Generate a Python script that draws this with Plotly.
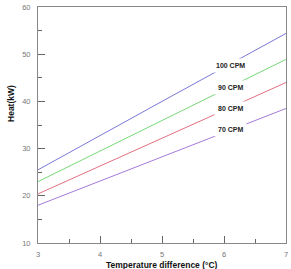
import plotly.graph_objects as go

temp_diff = [3, 4, 5, 6, 7]
heat_100 = [25.5, 32.8, 40.0, 47.2, 54.4]
heat_90 = [23.0, 29.5, 36.0, 42.4, 48.9]
heat_80 = [20.4, 26.3, 32.2, 38.1, 44.0]
heat_70 = [18.0, 23.1, 28.3, 33.4, 38.5]

series_names = ["100 CPM", "90 CPM", "80 CPM", "70 CPM"]
series_values = [heat_100, heat_90, heat_80, heat_70]
series_colors = ["#7a78d4", "#78d878", "#e07080", "#a47ad8"]
label_x = 6.1
label_y = [47.6, 43.0, 38.4, 34.1]

fig = go.Figure()
for name, vals, col in zip(series_names, series_values, series_colors):
    fig.add_trace(go.Scatter(x=temp_diff, y=vals, mode="lines", name=name,
                             line=dict(color=col, width=1)))

for name, ly in zip(series_names, label_y):
    fig.add_annotation(x=label_x, y=ly, xref="x", yref="y", text="<b>" + name + "</b>",
                       showarrow=False, bgcolor="white", borderpad=3,
                       font=dict(family="Arial", size=7, color="#222"),
                       xanchor="center", yanchor="middle")

fig.add_annotation(x=0.5, y=-0.092, xref="paper", yref="paper",
                   text="<b>Temperature difference (°C)</b>", showarrow=False,
                   font=dict(family="Arial", size=8.5, color="#111"),
                   xanchor="center", yanchor="middle")
fig.add_annotation(x=-0.108, y=0.59, xref="paper", yref="paper",
                   text="<b>Heat(kW)</b>", showarrow=False, textangle=-90,
                   font=dict(family="Arial", size=8.5, color="#111"),
                   xanchor="center", yanchor="middle")

tickfont = dict(family="Arial", size=7.5, color="#777")
fig.update_xaxes(range=[3, 7], tickmode="linear", tick0=3, dtick=1,
                 ticks="inside", ticklen=7, tickcolor="#666", tickwidth=1,
                 showline=True, linecolor="#888", linewidth=1, mirror=True,
                 showgrid=False, zeroline=False, tickfont=tickfont,
                 ticklabelstandoff=4,
                 minor=dict(ticks="inside", dtick=0.5, ticklen=4, tickcolor="#666"))
fig.update_yaxes(range=[10, 60], tickmode="linear", tick0=10, dtick=10,
                 ticks="inside", ticklen=7, tickcolor="#666", tickwidth=1,
                 showline=True, linecolor="#888", linewidth=1, mirror=True,
                 showgrid=False, zeroline=False, tickfont=tickfont,
                 ticklabelstandoff=5,
                 minor=dict(ticks="inside", dtick=5, ticklen=4, tickcolor="#666"))

fig.update_layout(width=291, height=269, showlegend=False,
                  margin=dict(l=38, r=3, t=6, b=26),
                  paper_bgcolor="white", plot_bgcolor="white")

fig.write_html("out.html")
